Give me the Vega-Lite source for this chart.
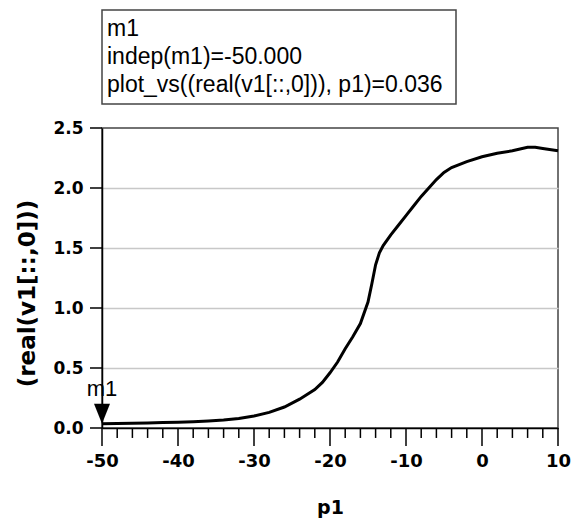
{
  "$schema": "https://vega.github.io/schema/vega-lite/v6.json",
  "background": "white",
  "padding": {"left": 16, "top": 9, "right": 6, "bottom": 0},
  "bounds": "flush",
  "spacing": 24,
  "config": {
    "view": {"stroke": "#444444", "strokeWidth": 1.5}
  },
  "datasets": {
    "curve": [
      {"p1": -50, "v": 0.036},
      {"p1": -48, "v": 0.038},
      {"p1": -46, "v": 0.04},
      {"p1": -44, "v": 0.042},
      {"p1": -42, "v": 0.045},
      {"p1": -40, "v": 0.048},
      {"p1": -38, "v": 0.052},
      {"p1": -36, "v": 0.058},
      {"p1": -34, "v": 0.066},
      {"p1": -32, "v": 0.08},
      {"p1": -30, "v": 0.1},
      {"p1": -28, "v": 0.13},
      {"p1": -26, "v": 0.175},
      {"p1": -24, "v": 0.24},
      {"p1": -22, "v": 0.32},
      {"p1": -21, "v": 0.38},
      {"p1": -20, "v": 0.46},
      {"p1": -19, "v": 0.55},
      {"p1": -18, "v": 0.66},
      {"p1": -17, "v": 0.76},
      {"p1": -16, "v": 0.87},
      {"p1": -15, "v": 1.05},
      {"p1": -14.5, "v": 1.2},
      {"p1": -14, "v": 1.36},
      {"p1": -13.5, "v": 1.46},
      {"p1": -13, "v": 1.52},
      {"p1": -12, "v": 1.61},
      {"p1": -11, "v": 1.69},
      {"p1": -10, "v": 1.77},
      {"p1": -9, "v": 1.85},
      {"p1": -8, "v": 1.93},
      {"p1": -7, "v": 2.0},
      {"p1": -6, "v": 2.07},
      {"p1": -5, "v": 2.13},
      {"p1": -4, "v": 2.17},
      {"p1": -2, "v": 2.22},
      {"p1": 0, "v": 2.26},
      {"p1": 2, "v": 2.29},
      {"p1": 4, "v": 2.31},
      {"p1": 6, "v": 2.34},
      {"p1": 7, "v": 2.34},
      {"p1": 8, "v": 2.33},
      {"p1": 10, "v": 2.31}
    ],
    "marker": [
      {"p1": -50, "v": 0.036, "name": "m1"}
    ],
    "xmajor": [
      {"p1": -50}, {"p1": -40}, {"p1": -30}, {"p1": -20}, {"p1": -10}, {"p1": 0}, {"p1": 10}
    ],
    "xminor": [
      {"p1": -48}, {"p1": -46}, {"p1": -44}, {"p1": -42},
      {"p1": -38}, {"p1": -36}, {"p1": -34}, {"p1": -32},
      {"p1": -28}, {"p1": -26}, {"p1": -24}, {"p1": -22},
      {"p1": -18}, {"p1": -16}, {"p1": -14}, {"p1": -12},
      {"p1": -8}, {"p1": -6}, {"p1": -4}, {"p1": -2},
      {"p1": 2}, {"p1": 4}, {"p1": 6}, {"p1": 8}
    ],
    "ymajor": [
      {"v": 0}, {"v": 0.5}, {"v": 1}, {"v": 1.5}, {"v": 2}, {"v": 2.5}
    ],
    "readout": [
      {"k": 1, "t": "m1"},
      {"k": 2, "t": "indep(m1)=-50.000"},
      {"k": 3, "t": "plot_vs((real(v1[::,0])), p1)=0.036"}
    ]
  },
  "vconcat": [
    {
      "width": 354,
      "height": 94,
      "data": {"name": "readout"},
      "mark": {"type": "text", "align": "left", "baseline": "middle", "font": "Liberation Sans", "fontSize": 23, "color": "black", "dx": 5},
      "encoding": {
        "x": {"datum": 0, "type": "quantitative", "scale": {"domain": [0, 1]}, "axis": null},
        "y": {"field": "k", "type": "ordinal", "scale": {"type": "point", "padding": 0.65}, "axis": null},
        "text": {"field": "t"}
      }
    },
    {
      "width": 456,
      "height": 300,
      "layer": [
        {
          "data": {"name": "curve"},
          "mark": {"type": "line", "color": "black", "strokeWidth": 3},
          "encoding": {
            "x": {
              "field": "p1",
              "type": "quantitative",
              "scale": {"domain": [-50, 10], "nice": false},
              "axis": {
                "title": "p1",
                "values": [-50, -40, -30, -20, -10, 0, 10],
                "labelExpr": "replace(format(datum.value, 'd'), '\u2212', '-')",
                "grid": false,
                "ticks": false,
                "domainColor": "black",
                "domainWidth": 1.5,
                "labelFont": "DejaVu Sans",
                "labelFontWeight": "bold",
                "labelFontSize": 18,
                "labelColor": "black",
                "labelPadding": 24,
                "labelFlush": false,
                "labelOverlap": false,
                "titleFont": "DejaVu Sans",
                "titleFontWeight": "bold",
                "titleFontSize": 19,
                "titleColor": "black",
                "titlePadding": 28
              }
            },
            "y": {
              "field": "v",
              "type": "quantitative",
              "scale": {"domain": [0, 2.5], "nice": false},
              "axis": {
                "title": "(real(v1[::,0]))",
                "values": [0, 0.5, 1, 1.5, 2, 2.5],
                "format": ".1f",
                "grid": true,
                "gridColor": "#c8c8c8",
                "gridWidth": 1.5,
                "gridOpacity": {"condition": {"test": "datum.value >= 2.5 || datum.value <= 0", "value": 0}, "value": 1},
                "ticks": false,
                "domainColor": "black",
                "domainWidth": 1.5,
                "labelFont": "DejaVu Sans",
                "labelFontWeight": "bold",
                "labelFontSize": 17,
                "labelColor": "black",
                "labelPadding": 19,
                "titleFont": "DejaVu Sans",
                "titleFontWeight": "bold",
                "titleFontSize": 23,
                "titleColor": "black",
                "titlePadding": 13,
                "titleY": 165
              }
            }
          }
        },
        {
          "data": {"name": "xmajor"},
          "mark": {"type": "rule", "color": "black", "strokeWidth": 1.5, "clip": false},
          "encoding": {
            "x": {"field": "p1", "type": "quantitative"},
            "y": {"datum": 0, "type": "quantitative"},
            "y2": {"datum": -0.15}
          }
        },
        {
          "data": {"name": "xminor"},
          "mark": {"type": "rule", "color": "black", "strokeWidth": 1.5, "clip": false},
          "encoding": {
            "x": {"field": "p1", "type": "quantitative"},
            "y": {"datum": 0, "type": "quantitative"},
            "y2": {"datum": -0.083}
          }
        },
        {
          "data": {"name": "ymajor"},
          "mark": {"type": "rule", "color": "black", "strokeWidth": 1.5, "clip": false},
          "encoding": {
            "y": {"field": "v", "type": "quantitative"},
            "x": {"datum": -51.58, "type": "quantitative"},
            "x2": {"datum": -50}
          }
        },
        {
          "data": {"name": "marker"},
          "mark": {"type": "point", "shape": "M-0.8,-2L0.8,-2L0,0Z", "filled": true, "color": "black", "opacity": 1, "size": 400},
          "encoding": {
            "x": {"field": "p1", "type": "quantitative"},
            "y": {"field": "v", "type": "quantitative"}
          }
        },
        {
          "data": {"name": "marker"},
          "mark": {"type": "text", "font": "Liberation Sans", "fontSize": 22, "color": "black", "align": "center", "baseline": "alphabetic", "dy": -28},
          "encoding": {
            "x": {"field": "p1", "type": "quantitative"},
            "y": {"field": "v", "type": "quantitative"},
            "text": {"field": "name"}
          }
        }
      ]
    }
  ]
}
